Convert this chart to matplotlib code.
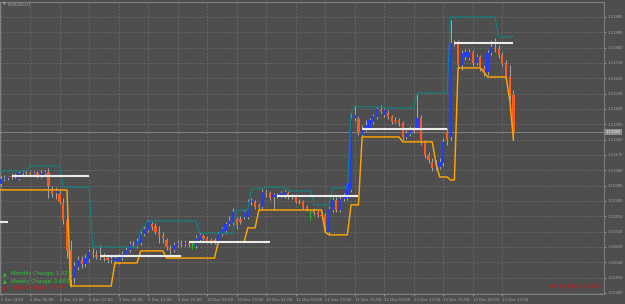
import matplotlib
matplotlib.use("Agg")
import matplotlib.pyplot as plt
import matplotlib.transforms as mtransforms
import numpy as np

# ---------------- data (EURUSD, H1) ----------------
opens = [1.11000,1.11029,1.11035,1.11047,1.11041,1.11029,1.11065,1.11070,1.11065,1.11059,
         1.11065,1.11047,1.11065,1.11070,1.10971,1.10947,1.10941,1.10888,1.10789,1.10612,
         1.10448,1.10513,1.10554,1.10530,1.10560,1.10595,1.10583,1.10571,1.10577,1.10565,
         1.10554,1.10548,1.10542,1.10565,1.10583,1.10612,1.10648,1.10642,1.10654,1.10706,
         1.10730,1.10765,1.10753,1.10712,1.10695,1.10671,1.10624,1.10612,1.10642,1.10654,
         1.10648,1.10654,1.10648,1.10636,1.10671,1.10695,1.10683,1.10671,1.10671,1.10659,
         1.10706,1.10724,1.10765,1.10771,1.10795,1.10795,1.10806,1.10806,1.10894,1.10894,
         1.10877,1.10865,1.10947,1.10947,1.10924,1.10929,1.10935,1.10929,1.10947,1.10924,
         1.10924,1.10894,1.10894,1.10865,1.10836,1.10847,1.10836,1.10818,1.10818,1.10718,
         1.10847,1.10906,1.10847,1.10912,1.10918,1.10965,1.11387,1.11381,1.11288,1.11323,
         1.11329,1.11364,1.11393,1.11434,1.11405,1.11417,1.11393,1.11376,1.11376,1.11358,
         1.11276,1.11293,1.11317,1.11329,1.11387,1.11247,1.11170,1.11129,1.11111,1.11100,
         1.11123,1.11305,1.11276,1.11822,1.11828,1.11698,1.11745,1.11740,1.11775,1.11710,
         1.11745,1.11681,1.11657,1.11769,1.11798,1.11792,1.11757,1.11710,1.11628,1.11522]
highs = [1.11047,1.11053,1.11047,1.11065,1.11065,1.11076,1.11082,1.11082,1.11076,1.11076,
         1.11076,1.11082,1.11082,1.11094,1.10988,1.10982,1.10965,1.10918,1.10818,1.10671,
         1.10542,1.10577,1.10577,1.10589,1.10618,1.10624,1.10612,1.10642,1.10595,1.10583,
         1.10577,1.10583,1.10589,1.10607,1.10630,1.10665,1.10665,1.10683,1.10724,1.10753,
         1.10789,1.10777,1.10771,1.10753,1.10718,1.10683,1.10642,1.10659,1.10671,1.10671,
         1.10671,1.10665,1.10665,1.10701,1.10712,1.10706,1.10695,1.10683,1.10683,1.10718,
         1.10748,1.10777,1.10812,1.10859,1.10806,1.10812,1.10847,1.10912,1.10918,1.10906,
         1.10888,1.10971,1.10971,1.10959,1.10947,1.10947,1.10959,1.10965,1.10959,1.10941,
         1.10935,1.10912,1.10906,1.10877,1.10847,1.10859,1.10847,1.10836,1.10830,1.10871,
         1.10924,1.10924,1.10929,1.10947,1.11023,1.11417,1.11464,1.11399,1.11346,1.11376,
         1.11387,1.11411,1.11452,1.11464,1.11446,1.11434,1.11405,1.11393,1.11387,1.11370,
         1.11317,1.11340,1.11334,1.11534,1.11405,1.11258,1.11188,1.11152,1.11141,1.11152,
         1.11270,1.11329,1.11963,1.11845,1.11845,1.11787,1.11792,1.11792,1.11787,1.11763,
         1.11757,1.11698,1.11787,1.11845,1.11857,1.11816,1.11775,1.11728,1.11698,1.11552]
lows = [1.10988,1.11018,1.11023,1.11029,1.11035,1.11023,1.11053,1.11053,1.11053,1.11047,
        1.11035,1.11035,1.11053,1.10918,1.10924,1.10912,1.10883,1.10765,1.10565,1.10395,
        1.10413,1.10495,1.10507,1.10513,1.10542,1.10565,1.10560,1.10554,1.10548,1.10536,
        1.10536,1.10530,1.10530,1.10554,1.10571,1.10601,1.10630,1.10624,1.10642,1.10695,
        1.10718,1.10730,1.10706,1.10654,1.10654,1.10612,1.10577,1.10601,1.10630,1.10630,
        1.10636,1.10630,1.10618,1.10624,1.10659,1.10671,1.10654,1.10648,1.10648,1.10648,
        1.10695,1.10712,1.10753,1.10759,1.10736,1.10765,1.10795,1.10795,1.10877,1.10853,
        1.10853,1.10853,1.10924,1.10906,1.10847,1.10918,1.10924,1.10918,1.10912,1.10912,
        1.10888,1.10883,1.10853,1.10841,1.10789,1.10818,1.10806,1.10795,1.10718,1.10706,
        1.10836,1.10836,1.10836,1.10900,1.10906,1.10953,1.11370,1.11288,1.11276,1.11311,
        1.11317,1.11352,1.11381,1.11417,1.11393,1.11381,1.11352,1.11358,1.11340,1.11258,
        1.11264,1.11282,1.11299,1.11317,1.11229,1.11152,1.11123,1.11076,1.11082,1.11088,
        1.11106,1.11229,1.11258,1.11810,1.11681,1.11669,1.11728,1.11728,1.11693,1.11698,
        1.11663,1.11634,1.11640,1.11757,1.11775,1.11740,1.11693,1.11610,1.11493,1.11258]
closes = [1.11029,1.11035,1.11041,1.11041,1.11047,1.11065,1.11070,1.11065,1.11059,1.11065,
          1.11047,1.11065,1.11070,1.10988,1.10941,1.10959,1.10894,1.10789,1.10612,1.10436,
          1.10519,1.10554,1.10530,1.10565,1.10601,1.10589,1.10571,1.10577,1.10565,1.10554,
          1.10560,1.10565,1.10571,1.10589,1.10612,1.10648,1.10642,1.10665,1.10706,1.10736,
          1.10777,1.10748,1.10718,1.10701,1.10683,1.10630,1.10612,1.10642,1.10648,1.10648,
          1.10654,1.10648,1.10648,1.10683,1.10701,1.10683,1.10665,1.10659,1.10665,1.10706,
          1.10736,1.10765,1.10783,1.10836,1.10759,1.10777,1.10836,1.10894,1.10900,1.10865,
          1.10865,1.10953,1.10941,1.10918,1.10935,1.10935,1.10947,1.10953,1.10924,1.10929,
          1.10894,1.10888,1.10865,1.10853,1.10836,1.10830,1.10818,1.10812,1.10748,1.10853,
          1.10906,1.10847,1.10912,1.10924,1.11006,1.11387,1.11405,1.11299,1.11329,1.11346,
          1.11376,1.11399,1.11440,1.11428,1.11434,1.11393,1.11364,1.11370,1.11358,1.11276,
          1.11299,1.11323,1.11311,1.11387,1.11247,1.11170,1.11141,1.11094,1.11106,1.11129,
          1.11247,1.11258,1.11828,1.11828,1.11698,1.11769,1.11775,1.11775,1.11710,1.11745,
          1.11681,1.11652,1.11769,1.11804,1.11792,1.11757,1.11710,1.11628,1.11522,1.11305]

# upper channel (teal) and lower channel (orange): bar index -> price
teal_idx = [0,7,8,16,17,24,25,37,38,39,40,53,54,63,64,67,68,71,72,76,79,84,85,89,90,94,95,96,
            104,105,112,113,121,122,134,135,139]
teal_val = [1.11076,1.11076,1.11106,1.11106,1.10982,1.10982,1.10630,1.10630,1.10724,1.10753,
            1.10783,1.10783,1.10712,1.10712,1.10847,1.10847,1.10971,1.10971,1.10982,1.10982,
            1.10959,1.10959,1.10877,1.10877,1.10976,1.10976,1.11417,1.11452,1.11452,1.11446,
            1.11446,1.11534,1.11534,1.11980,1.11980,1.11863,1.11863]
orange_idx = [0,18,19,30,31,37,38,44,45,58,59,66,67,69,70,87,88,89,94,95,97,98,108,109,117,
              118,119,121,122,123,124,130,131,132,137,138,139]
orange_val = [1.10965,1.10965,1.10401,1.10401,1.10536,1.10536,1.10607,1.10607,1.10565,1.10565,
              1.10659,1.10659,1.10742,1.10742,1.10847,1.10847,1.10718,1.10701,1.10701,1.10877,
              1.10877,1.11276,1.11276,1.11247,1.11247,1.11123,1.11041,1.11041,1.11023,1.11023,
              1.11681,1.11681,1.11657,1.11628,1.11628,1.11493,1.11258]

# daily open levels (white)
day_start = [-1, 3, 27, 51, 75, 98, 123]
day_end = [2, 24, 49, 73, 97, 121, 139]
day_open = [1.10777, 1.11047, 1.10577, 1.10659, 1.10929, 1.11323, 1.11828]

current_price = 1.11305
price_ticks = [1.11980, 1.11890, 1.11800, 1.11710, 1.11620, 1.11530, 1.11440, 1.11350,
               1.11260, 1.11170, 1.11080, 1.10990, 1.10900, 1.10810, 1.10720, 1.10630,
               1.10540, 1.10450, 1.10360]
time_idx = list(range(0, 137, 8))
time_labels = ["5 Dec 2019", "6 Dec 05:00", "6 Dec 13:00", "6 Dec 21:00", "9 Dec 05:00",
               "9 Dec 13:00", "9 Dec 21:00", "10 Dec 05:00", "10 Dec 13:00", "10 Dec 21:00",
               "11 Dec 05:00", "11 Dec 13:00", "11 Dec 21:00", "12 Dec 05:00", "12 Dec 13:00",
               "12 Dec 21:00", "13 Dec 05:00", "13 Dec 13:00"]
change_labels = ["Monthly Change: 1.02%", "Weekly Change: 0.66%", "Daily Change: -0.48%"]
change_up = [True, True, False]
stats_text = "44.4 | 68.3 | 184 %"
symbol_text = "EURUSD,H1"

# ---------------- style ----------------
BG = "#4e4e4e"
GRID = "#6e6e6e"
FRAME = "#8a8a8a"
TXT = "#a8a8a8"
BULL = "#1f3cff"
BEAR = "#ff5a1e"
WICK = "#a6a6a6"
DOJI = "#22c022"
W, H = 625, 304

fig = plt.figure(figsize=(W / 100, H / 100), dpi=100, facecolor=BG)
ax = fig.add_axes([0.0, 10 / H, 604 / W, 292 / H], facecolor=BG)

o = np.array(opens); h = np.array(highs); l = np.array(lows); c = np.array(closes)
idx = np.arange(len(c))

ax.set_xlim(-0.14, 163.55)
ax.set_ylim(1.10354, 1.12068)

ax.set_yticks(price_ticks)
ax.set_yticklabels([f"{p:.5f}" for p in price_ticks])
ax.set_xticks(time_idx)
ax.set_xticklabels(time_labels)
ax.yaxis.tick_right()
ax.tick_params(axis="y", labelsize=2.7, colors=TXT, length=1.5, width=0.5, pad=1.2)
ax.tick_params(axis="x", labelsize=2.8, colors=TXT, length=1.5, width=0.5, pad=1.2)
for t in ax.get_xticklabels():
    t.set_ha("left")
ax.grid(True, color=GRID, linestyle=(0, (2, 2)), linewidth=0.6)
ax.set_axisbelow(True)
for s in ax.spines.values():
    s.set_color(FRAME)
    s.set_linewidth(0.6)

# bid line
ax.axhline(current_price, color="#8c8c8c", lw=0.6, zorder=1)

# candles
doji = o == c
bull = c > o
wick_col = np.where(doji, DOJI, WICK)
ax.vlines(idx, l, h, colors=wick_col, lw=0.7, zorder=2)
bottoms = np.minimum(o, c)
heights = np.maximum(np.abs(c - o), 0.000015)
body_col = np.where(bull, BULL, BEAR)
nd = ~doji
ax.bar(idx[nd], heights[nd], bottom=bottoms[nd], width=0.62, color=body_col[nd],
       linewidth=0, zorder=3)
ax.hlines(o[doji], idx[doji] - 0.35, idx[doji] + 0.35, colors=DOJI, lw=0.8, zorder=3)

# indicator lines
ax.plot(teal_idx, teal_val, color="#0f8584", lw=0.8, zorder=4)
ax.plot(orange_idx, orange_val, color="#ffa500", lw=1.05, zorder=4)
ax.hlines(day_open, day_start, day_end, colors="#ececec", lw=1.5, zorder=5)

# current price box
tr = mtransforms.blended_transform_factory(ax.transAxes, ax.transData)
ax.text(1.003, current_price, f"{current_price:.5f}", transform=tr, fontsize=2.7,
        color="#f0f0f0", va="center", ha="left", zorder=6,
        bbox=dict(facecolor="#8e8e8e", edgecolor="none", pad=0.8))

def fx(x):
    return x / W

def fy(y):
    return 1 - y / H

# symbol
fig.text(fx(3), fy(5), "▼", fontsize=2.6, color=TXT, va="center", ha="left")
fig.text(fx(8), fy(5), symbol_text, fontsize=2.9, color=TXT, va="center", ha="left")

# change labels
for k, (lab, up) in enumerate(zip(change_labels, change_up)):
    y = 274 + 7 * k
    col = "#2ccc2c" if up else "#e41414"
    fig.text(fx(3), fy(y), "▲" if up else "▼", fontsize=3.4, color=col, va="center", ha="left")
    fig.text(fx(11), fy(y), lab, fontsize=3.7, color=col, va="center", ha="left")

fig.text(fx(600), fy(286), stats_text, fontsize=3.8, color="#e01010", va="center", ha="right")

fig.savefig("out.png", dpi=100, facecolor=BG)
